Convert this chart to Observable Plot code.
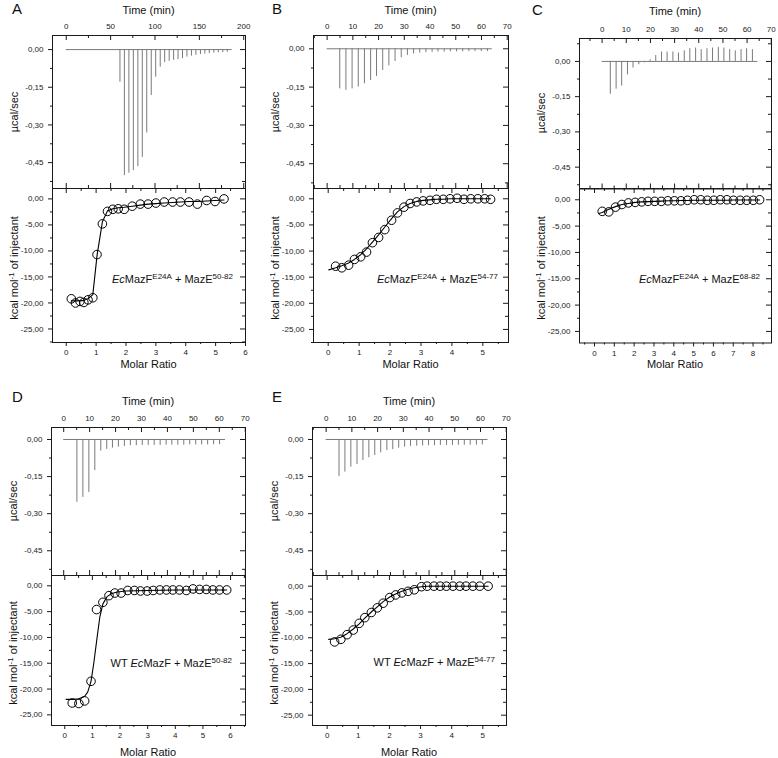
<!DOCTYPE html>
<html><head><meta charset="utf-8">
<script src="https://cdn.jsdelivr.net/npm/d3@7"></script>
<script src="https://cdn.jsdelivr.net/npm/@observablehq/plot@0.6"></script>
<style>
body{margin:0;background:#fff;font-family:"Liberation Sans",Arial,sans-serif;color:#111}
#fig{position:relative;width:778px;height:758px;overflow:hidden;background:#fff}
#fig svg{position:absolute;max-width:none;background:transparent;overflow:visible}
.t{position:absolute;white-space:nowrap;line-height:1;font-family:"Liberation Sans",Arial,sans-serif;color:#111}
.letter{font-size:15px}
.title{font-size:11px;transform:translate(-50%,-50%)}
.ylab{font-size:11px;transform:translate(-50%,-50%) rotate(-90deg)}
.note{font-size:11px;transform:translate(-100%,-50%)}
.sup{font-size:8px;position:relative;top:-4px}
</style></head><body><div id="fig"></div>
<script>
// ---------- tick labels ----------
const A_timeTicks = [0, 50, 100, 150, 200];
const BCDE_timeTicks = [0, 10, 20, 30, 40, 50, 60, 70];
const A_ratioTicks = [0, 1, 2, 3, 4, 5, 6];
const B_ratioTicks = [0, 1, 2, 3, 4, 5];
const C_ratioTicks = [0, 1, 2, 3, 4, 5, 6, 7, 8, 9];
const D_ratioTicks = [0, 1, 2, 3, 4, 5, 6];
const E_ratioTicks = [0, 1, 2, 3, 4, 5];
const powerTicks = [0, -0.15, -0.30, -0.45];
const heatTicks = [0, -5, -10, -15, -20, -25];

// ---------- panel A: EcMazF E24A + MazE 50-82 ----------
const A_injTime = [60.5,65.5,70.6,75.6,80.7,85.7,90.7,95.8,100.8,105.9,110.9,116,121,126,131,136,141.1,146.1,151.2,156.2,161.2,166.3,171.3,176.4,181.4];
const A_peak = [-0.130,-0.502,-0.492,-0.482,-0.466,-0.429,-0.332,-0.183,-0.110,-0.070,-0.052,-0.047,-0.043,-0.040,-0.036,-0.030,-0.026,-0.023,-0.020,-0.018,-0.016,-0.014,-0.013,-0.012,-0.011];
const A_baseEnd = [187];
const A_ratio = [0.17,0.31,0.46,0.59,0.73,0.89,1.03,1.21,1.38,1.56,1.74,1.94,2.21,2.48,2.74,3.00,3.28,3.56,3.82,4.11,4.39,4.70,4.98,5.28];
const A_heat = [-19.2,-20.0,-19.7,-19.9,-19.4,-19.0,-10.7,-4.8,-2.4,-2.0,-1.9,-2.0,-1.4,-1.0,-1.0,-0.8,-0.6,-0.6,-0.6,-0.6,-1.0,-0.3,-0.5,0.0];
const A_fitX = [0.17,0.31,0.46,0.59,0.73,0.89,1.03,1.21,1.38,1.56,1.74,1.94,2.21,2.48,2.74,3.00,3.28,3.56,3.82,4.11,4.39,4.70,4.98,5.28];
const A_fitY = [-19.6,-19.6,-19.6,-19.5,-19.2,-18.4,-10.9,-4.4,-2.3,-1.9,-1.7,-1.6,-1.4,-1.2,-1.0,-0.9,-0.8,-0.7,-0.6,-0.5,-0.5,-0.4,-0.3,-0.2];

// ---------- panel B: EcMazF E24A + MazE 54-77 ----------
const B_injTime = [4.9,7.3,9.7,12.1,14.5,16.9,19.2,21.6,24.0,26.4,28.8,31.2,33.6,36.0,38.4,40.8,43.1,45.5,47.9,50.3,52.7,55.1,57.5,59.9,62.3];
const B_peak = [-0.157,-0.163,-0.157,-0.150,-0.137,-0.124,-0.108,-0.085,-0.067,-0.050,-0.035,-0.026,-0.020,-0.017,-0.015,-0.014,-0.013,-0.013,-0.012,-0.012,-0.012,-0.011,-0.011,-0.011,-0.011];
const B_baseEnd = [64.2];
const B_ratio = [0.24,0.44,0.66,0.85,1.05,1.24,1.43,1.63,1.83,2.05,2.24,2.45,2.65,2.86,3.07,3.29,3.50,3.72,3.94,4.17,4.39,4.61,4.84,5.06,5.25];
const B_heat = [-12.9,-13.2,-12.7,-11.6,-11.1,-10.2,-8.4,-7.4,-5.9,-4.1,-2.7,-1.6,-0.9,-0.6,-0.4,-0.3,-0.1,-0.1,0.0,0.1,-0.1,0.0,0.0,0.0,-0.1];
const B_fitX = [0.02,0.24,0.44,0.66,0.85,1.05,1.24,1.43,1.63,1.83,2.05,2.24,2.45,2.65,2.86,3.07,3.29,3.50,3.72,3.94,4.17,4.39,4.61,4.84,5.06,5.25];
const B_fitY = [-13.6,-13.2,-12.8,-12.3,-11.6,-10.7,-9.6,-8.3,-6.9,-5.4,-3.8,-2.5,-1.5,-0.9,-0.5,-0.3,-0.2,-0.1,-0.1,0,0,0,0,0,0,0];

// ---------- panel C: EcMazF E24A + MazE 68-82 ----------
const C_injTime = [3.4,5.8,8.1,10.5,12.8,15.2,17.5,19.9,22.2,24.6,26.9,29.3,31.6,34.0,36.3,38.7,41.0,43.4,45.7,48.1,50.4,52.8,55.1,57.5,59.8,62.2];
const C_peak = [-0.140,-0.118,-0.105,-0.057,-0.028,-0.014,-0.006,0.007,0.025,0.040,0.040,0.040,0.036,0.045,0.054,0.057,0.050,0.054,0.057,0.060,0.057,0.050,0.045,0.050,0.054,0.050];
const C_baseEnd = [64.5];
const C_ratio = [0.39,0.72,1.06,1.38,1.71,2.05,2.38,2.70,3.04,3.37,3.70,4.03,4.36,4.69,5.03,5.36,5.69,6.02,6.35,6.68,7.01,7.35,7.68,8.01,8.33];
const C_heat = [-2.2,-2.3,-1.4,-0.9,-0.6,-0.5,-0.4,-0.3,-0.3,-0.3,-0.2,-0.2,-0.2,-0.1,0.0,0.0,-0.1,-0.1,0.0,0.0,-0.1,-0.1,-0.1,-0.1,0.0];
const C_fitX = [0.22,0.39,0.72,1.06,1.38,1.71,2.05,2.38,2.70,3.04,3.37,3.70,4.03,4.36,4.69,5.03,5.36,5.69,6.02,6.35,6.68,7.01,7.35,7.68,8.01,8.33];
const C_fitY = [-2.6,-2.4,-1.8,-1.3,-0.9,-0.7,-0.5,-0.4,-0.35,-0.3,-0.25,-0.2,-0.2,-0.15,-0.15,-0.1,-0.1,-0.1,-0.1,-0.1,-0.1,-0.05,-0.05,-0.05,-0.05,-0.05];

// ---------- panel D: WT EcMazF + MazE 50-82 ----------
const D_injTime = [5.1,7.4,9.7,12.0,14.3,16.6,18.8,21.1,23.4,25.7,28.0,30.3,32.6,34.9,37.2,39.5,41.7,44.0,46.3,48.6,50.9,53.2,55.5,57.8,60.1];
const D_peak = [-0.254,-0.234,-0.214,-0.126,-0.047,-0.040,-0.035,-0.031,-0.028,-0.025,-0.025,-0.024,-0.024,-0.024,-0.024,-0.023,-0.023,-0.023,-0.023,-0.022,-0.022,-0.022,-0.022,-0.021,-0.021];
const D_baseEnd = [62.4];
const D_ratio = [0.27,0.51,0.72,0.95,1.15,1.38,1.60,1.81,2.04,2.28,2.52,2.74,2.98,3.20,3.44,3.68,3.91,4.15,4.40,4.64,4.88,5.12,5.36,5.60,5.86];
const D_heat = [-22.7,-22.8,-22.3,-18.5,-4.6,-3.2,-1.9,-1.4,-1.4,-0.9,-0.9,-1.0,-1.0,-0.9,-0.8,-0.8,-0.8,-0.8,-0.9,-0.6,-0.7,-0.7,-0.8,-0.8,-0.8];
const D_fitX = [0.05,0.27,0.51,0.72,0.83,0.95,1.05,1.17,1.27,1.38,1.53,1.70,1.90,2.20,2.60,3.00,3.50,4.00,4.50,5.00,5.50,5.86];
const D_fitY = [-22.0,-22.0,-21.9,-21.4,-20.6,-18.5,-15.0,-10.0,-6.0,-3.5,-2.1,-1.5,-1.2,-1.0,-0.95,-0.9,-0.85,-0.8,-0.8,-0.8,-0.8,-0.8];

// ---------- panel E: WT EcMazF + MazE 54-77 ----------
const E_injTime = [5.0,7.3,9.6,12.0,14.3,16.6,18.9,21.2,23.6,25.9,28.2,30.5,32.8,35.2,37.5,39.8,42.1,44.4,46.8,49.1,51.4,53.7,56.0,58.4,60.7];
const E_peak = [-0.150,-0.132,-0.112,-0.101,-0.085,-0.074,-0.065,-0.054,-0.045,-0.041,-0.035,-0.031,-0.028,-0.027,-0.026,-0.025,-0.025,-0.024,-0.024,-0.024,-0.023,-0.023,-0.023,-0.023,-0.022];
const E_baseEnd = [62.9];
const E_ratio = [0.24,0.44,0.64,0.84,1.03,1.21,1.42,1.61,1.80,2.01,2.20,2.40,2.60,2.80,3.03,3.21,3.43,3.63,3.83,4.04,4.26,4.46,4.68,4.90,5.17];
const E_heat = [-10.8,-10.3,-9.4,-8.5,-7.2,-6.1,-5.1,-4.2,-3.3,-2.2,-1.7,-1.3,-1.0,-0.7,-0.1,0.0,0.0,0.0,0.0,0.0,0.0,0.0,0.0,0.0,0.0];
const E_fitX = [0.05,0.24,0.44,0.64,0.84,1.03,1.21,1.42,1.61,1.80,2.01,2.20,2.40,2.60,2.80,3.03,3.21,3.43,3.63,3.83,4.04,4.26,4.46,4.68,4.90,5.17];
const E_fitY = [-10.3,-10.2,-9.9,-9.2,-8.3,-7.3,-6.2,-5.0,-4.0,-3.0,-2.1,-1.5,-1.0,-0.6,-0.3,-0.1,0,0,0,0,0,0,0,0,0,0];

// ---------- layout (positions only) ----------
const panels = [
  {letter:"A", col:0,   L:52,  R:245, T:35,   M:188, B:342,   tx:[-15.5,202], ty:[-0.553,0.056], bx:[-0.46,6.0],  by:[-27.6,2.0],
   timeTicks:A_timeTicks, ratioTicks:A_ratioTicks, inj:A_injTime, peak:A_peak, baseEnd:A_baseEnd, ratio:A_ratio, heat:A_heat, fitX:A_fitX, fitY:A_fitY,
   titleY:10, molarY:364, letterY:1, note:'<i>Ec</i>MazF<span class="sup">E24A</span> + MazE<span class="sup">50-82</span>', noteX:233, noteY:279},
  {letter:"B", col:260, L:313, R:508, T:35,   M:188, B:342,   tx:[-5.3,70.5], ty:[-0.547,0.052], bx:[-0.475,5.83], by:[-27.5,1.97],
   timeTicks:BCDE_timeTicks, ratioTicks:B_ratioTicks, inj:B_injTime, peak:B_peak, baseEnd:B_baseEnd, ratio:B_ratio, heat:B_heat, fitX:B_fitX, fitY:B_fitY,
   titleY:10, molarY:364, letterY:1, note:'<i>Ec</i>MazF<span class="sup">E24A</span> + MazE<span class="sup">54-77</span>', noteX:498, noteY:279},
  {letter:"C", col:520, L:579, R:771, T:37.5, M:188, B:342.5, tx:[-9.35,70.1], ty:[-0.543,0.0976], bx:[-0.757,8.93], by:[-27.2,2.14],
   timeTicks:BCDE_timeTicks, ratioTicks:C_ratioTicks, inj:C_injTime, peak:C_peak, baseEnd:C_baseEnd, ratio:C_ratio, heat:C_heat, fitX:C_fitX, fitY:C_fitY,
   titleY:11, molarY:364, letterY:2, note:'<i>Ec</i>MazF<span class="sup">E24A</span> + MazE<span class="sup">68-82</span>', noteX:760, noteY:279},
  {letter:"D", col:0,   L:51,  R:245, T:427,  M:575, B:725,   tx:[-4.7,70.1], ty:[-0.55,0.0485], bx:[-0.48,6.54], by:[-27.06,2.0],
   timeTicks:BCDE_timeTicks, ratioTicks:D_ratioTicks, inj:D_injTime, peak:D_peak, baseEnd:D_baseEnd, ratio:D_ratio, heat:D_heat, fitX:D_fitX, fitY:D_fitY,
   titleY:401, molarY:752, letterY:389, note:'WT <i>Ec</i>MazF + MazE<span class="sup">50-82</span>', noteX:232, noteY:663},
  {letter:"E", col:260, L:312, R:506, T:427,  M:575, B:725,   tx:[-5.3,70.1], ty:[-0.55,0.0485], bx:[-0.47,5.76], by:[-27.0,2.07],
   timeTicks:BCDE_timeTicks, ratioTicks:E_ratioTicks, inj:E_injTime, peak:E_peak, baseEnd:E_baseEnd, ratio:E_ratio, heat:E_heat, fitX:E_fitX, fitY:E_fitY,
   titleY:401, molarY:752, letterY:389, note:'WT <i>Ec</i>MazF + MazE<span class="sup">54-77</span>', noteX:495, noteY:662}
];

const FONT = '"Liberation Sans", Arial, sans-serif';
const INK = "#1a1a1a";
const TRACE = "#7a7a7a";
const fig = document.getElementById("fig");

const fmtDec = d => d3.format(".2f")(d).replace("\u2212", "-").replace(".", ",");
const fmtInt = d => String(d);
function inDom(vals, dom) {
  const lo = Math.min(...dom) - 1e-9, hi = Math.max(...dom) + 1e-9;
  return vals.filter(v => v >= lo && v <= hi);
}
function minorOf(major, dom) {
  const s = [...major].sort((a, b) => a - b);
  const step = s[1] - s[0];
  const out = [];
  for (let i = -1; i < s.length; i++) out.push(+(s[0] + (i + 0.5) * step).toFixed(6));
  return inDom(out, dom);
}
function addText(cls, html, x, y) {
  const d = document.createElement("div");
  d.className = "t " + cls;
  d.innerHTML = html;
  d.style.left = x + "px";
  d.style.top = y + "px";
  fig.appendChild(d);
}

for (const p of panels) {
  const iw = p.R - p.L;
  const ml = p.L - p.col;
  const mr = 6;
  const W = p.R - p.col + mr;

  // ---- top: raw thermogram ----
  {
    const mt = 22, mb = 1, ih = p.M - p.T;
    const xMaj = inDom(p.timeTicks, p.tx), xMin = minorOf(p.timeTicks, p.tx);
    const yMaj = inDom(powerTicks, p.ty), yMin = minorOf(powerTicks, p.ty);
    const spikes = p.inj.map((t, i) => ({t, v: p.peak[i]}));
    const svg = Plot.plot({
      width: W, height: mt + ih + mb,
      marginLeft: ml, marginRight: mr, marginTop: mt, marginBottom: mb,
      x: {domain: p.tx}, y: {domain: p.ty},
      style: {fontFamily: FONT, fontSize: "8px", color: INK, background: "transparent", overflow: "visible"},
      marks: [
        Plot.ruleY([0], {x1: 0, x2: p.baseEnd[0], stroke: TRACE, strokeWidth: 1}),
        Plot.ruleX(spikes, {x: "t", y1: 0, y2: "v", stroke: TRACE, strokeWidth: 1}),
        Plot.frame({stroke: INK}),
        Plot.tickX(xMaj, {insetBottom: ih - 5, stroke: INK}),
        Plot.tickX(xMin, {insetBottom: ih - 3, stroke: INK}),
        Plot.tickX(xMaj, {insetTop: ih - 5, stroke: INK}),
        Plot.tickX(xMin, {insetTop: ih - 3, stroke: INK}),
        Plot.tickY(yMaj, {insetLeft: iw - 5, stroke: INK}),
        Plot.tickY(yMin, {insetLeft: iw - 3, stroke: INK}),
        Plot.axisY(yMaj, {anchor: "left", tickSize: 4, tickPadding: 5, tickFormat: fmtDec, label: null}),
        Plot.axisY(yMin, {anchor: "left", tickSize: 2, fill: "none", label: null}),
        Plot.axisX(xMaj, {anchor: "top", tickSize: 0, tickPadding: 7, tickFormat: fmtInt, label: null})
      ]
    });
    svg.style.left = p.col + "px";
    svg.style.top = (p.T - mt) + "px";
    fig.appendChild(svg);
  }

  // ---- bottom: binding isotherm ----
  {
    const mt = 1, mb = 24, ih = p.B - p.M;
    const xMaj = inDom(p.ratioTicks, p.bx), xMin = minorOf(p.ratioTicks, p.bx);
    const yMaj = inDom(heatTicks, p.by), yMin = minorOf(heatTicks, p.by);
    const pts = p.ratio.map((r, i) => ({r, h: p.heat[i]}));
    const fit = p.fitX.map((r, i) => ({r, h: p.fitY[i]}));
    const svg = Plot.plot({
      width: W, height: mt + ih + mb,
      marginLeft: ml, marginRight: mr, marginTop: mt, marginBottom: mb,
      x: {domain: p.bx}, y: {domain: p.by},
      style: {fontFamily: FONT, fontSize: "8px", color: INK, background: "transparent", overflow: "visible"},
      marks: [
        Plot.frame({stroke: INK}),
        Plot.tickX(xMaj, {insetBottom: ih - 5, stroke: INK}),
        Plot.tickX(xMin, {insetBottom: ih - 3, stroke: INK}),
        Plot.tickY(yMaj, {insetLeft: iw - 5, stroke: INK}),
        Plot.tickY(yMin, {insetLeft: iw - 3, stroke: INK}),
        Plot.axisY(yMaj, {anchor: "left", tickSize: 4, tickPadding: 5, tickFormat: fmtDec, label: null}),
        Plot.axisY(yMin, {anchor: "left", tickSize: 2, fill: "none", label: null}),
        Plot.axisX(xMaj, {anchor: "bottom", tickSize: 4, tickPadding: 3, tickFormat: fmtInt, label: null}),
        Plot.axisX(xMin, {anchor: "bottom", tickSize: 2, fill: "none", label: null}),
        Plot.line(fit, {x: "r", y: "h", stroke: "#000", strokeWidth: 1.1}),
        Plot.dot(pts, {x: "r", y: "h", r: 4.3, stroke: "#000", strokeWidth: 1, fill: "none"})
      ]
    });
    svg.style.left = p.col + "px";
    svg.style.top = (p.M - mt) + "px";
    fig.appendChild(svg);
  }

  // ---- texts ----
  const cx = (p.L + p.R) / 2;
  addText("letter", p.letter, p.col + 12, p.letterY);
  addText("title", "Time (min)", cx, p.titleY);
  addText("title", "Molar Ratio", cx, p.molarY);
  addText("ylab", "\u00b5cal/sec", p.L - 38, (p.T + p.M) / 2);
  addText("ylab", 'kcal mol<span class="sup">-1</span> of injectant', p.L - 38, (p.M + p.B) / 2 + 3);
  addText("note", p.note, p.noteX, p.noteY);
}
</script></body></html>
